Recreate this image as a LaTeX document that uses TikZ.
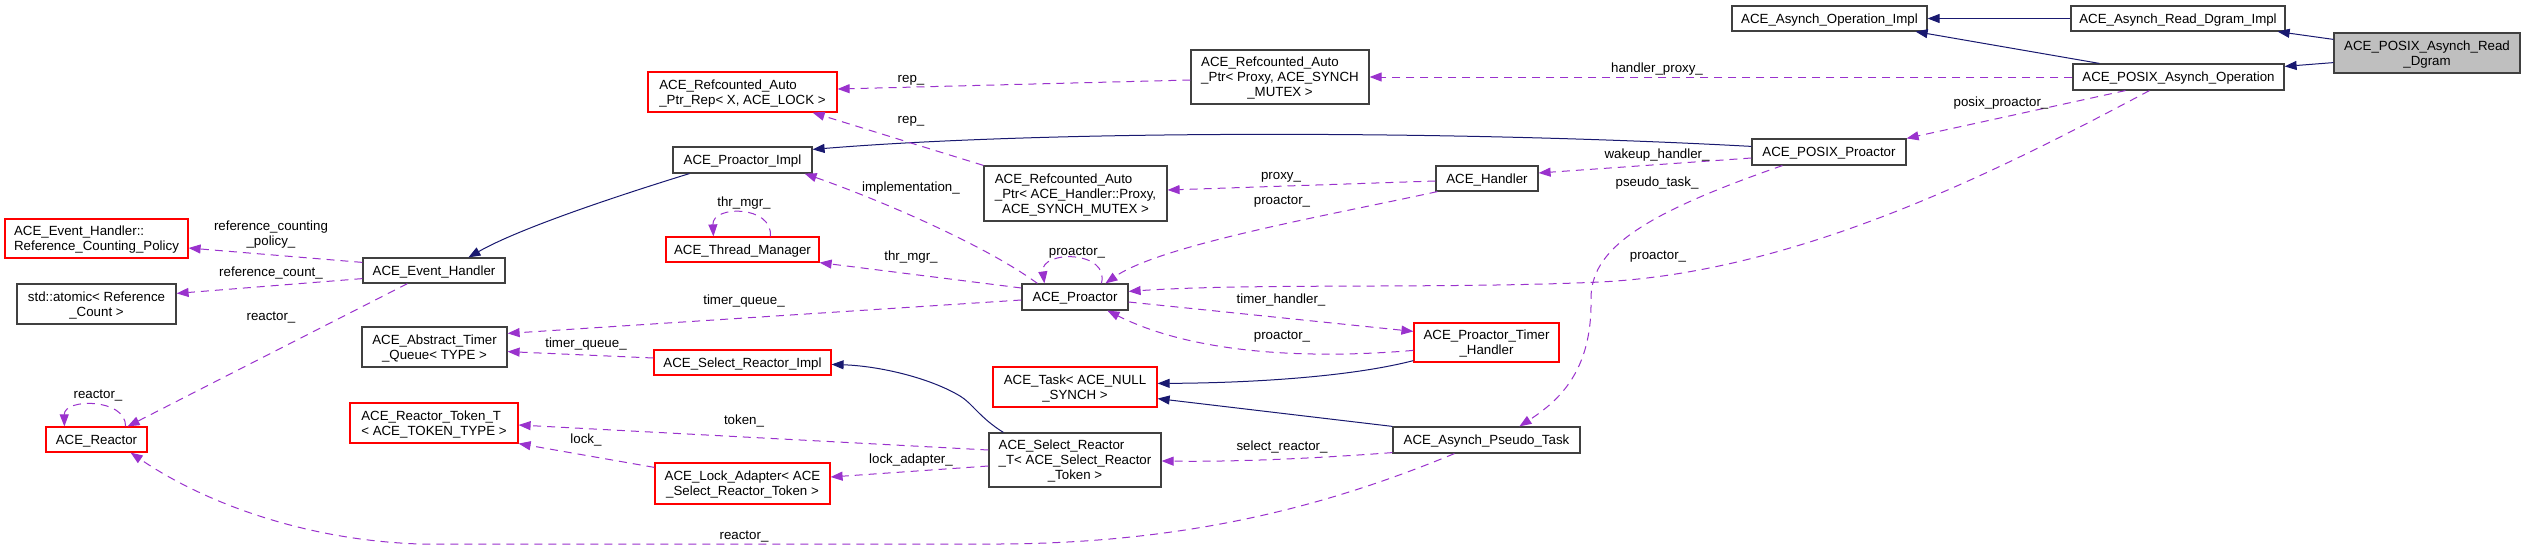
\documentclass[tikz,border=0pt]{standalone}
\usepackage{fontspec}
\setmainfont{Liberation Sans}
\usetikzlibrary{arrows.meta}
\definecolor{edgepurple}{HTML}{9A32CD}
\definecolor{edgenavy}{HTML}{191970}
\definecolor{boxgray}{HTML}{404040}
\definecolor{fillgray}{HTML}{BFBFBF}
\newcommand\nodefont{\fontsize{13.3}{15}\selectfont}
\newcommand\txa[1]{\raisebox{-1.5pt}[\height][\depth]{\begin{tabular}{@{}c@{}}#1\end{tabular}}}
\newcommand\txb[2]{\raisebox{-1.5pt}[\height][\depth]{\begin{tabular}{@{}l@{}}#1\\\multicolumn{1}{@{}c@{}}{#2}\end{tabular}}}
\newcommand\txc[3]{\raisebox{-1.5pt}[\height][\depth]{\begin{tabular}{@{}l@{}}#1\\#2\\\multicolumn{1}{@{}c@{}}{#3}\end{tabular}}}
\tikzset{
  cls/.style={draw=boxgray, line width=1.2pt, fill=white, inner sep=0pt, font=\nodefont},
  redcls/.style={cls, draw=red},
  maincls/.style={cls, fill=fillgray},
  box/.style n args={2}{minimum width=#1, minimum height=#2},
  inh/.style={draw=edgenavy, line width=1pt, -{Triangle[length=12pt,width=9pt]}},
  use/.style={draw=edgepurple, line width=1pt, dash pattern=on 8pt off 6pt, -{Triangle[length=12pt,width=9pt]}},
  lbl/.style={font=\nodefont, inner sep=0pt, text height=7pt, text depth=0pt},
}
\begin{document}
\begin{tikzpicture}[x=1pt,y=-1pt]
\useasboundingbox (0,0) rectangle (2527,549);
\fill[white] (0,0) rectangle (2527,549);
% nodes
\node[redcls, box={183pt}{39pt}] (policy) at (96.5,238.5) {\txb{ACE\_Event\_Handler::}{Reference\_Counting\_Policy}};
\node[cls, box={142pt}{25pt}] (evh) at (434,270.5) {\txa{ACE\_Event\_Handler}};
\node[cls, box={159pt}{40pt}] (atomic) at (96.5,304) {\txb{std::atomic< Reference}{\_Count >}};
\node[cls, box={145pt}{40pt}] (timerq) at (434.5,347) {\txb{ACE\_Abstract\_Timer}{\_Queue< TYPE >}};
\node[redcls, box={101pt}{25pt}] (reactor) at (96.5,439.5) {\txa{ACE\_Reactor}};
\node[redcls, box={168pt}{40pt}] (token) at (434,423) {\txb{ACE\_Reactor\_Token\_T}{< ACE\_TOKEN\_TYPE >}};
\node[redcls, box={189pt}{40pt}] (rep) at (742.5,92) {\txb{ACE\_Refcounted\_Auto}{\_Ptr\_Rep< X, ACE\_LOCK >}};
\node[cls, box={178pt}{54pt}] (refproxy) at (1280,77) {\txc{ACE\_Refcounted\_Auto}{\_Ptr< Proxy, ACE\_SYNCH}{\_MUTEX >}};
\node[cls, box={139pt}{26pt}] (pimpl) at (742.5,160) {\txa{ACE\_Proactor\_Impl}};
\node[cls, box={183pt}{55pt}] (refhproxy) at (1075.5,193.5) {\txc{ACE\_Refcounted\_Auto}{\_Ptr< ACE\_Handler::Proxy,}{ACE\_SYNCH\_MUTEX >}};
\node[redcls, box={153pt}{25pt}] (thrmgr) at (742.5,249.5) {\txa{ACE\_Thread\_Manager}};
\node[cls, box={106pt}{26pt}] (proactor) at (1075,297) {\txa{ACE\_Proactor}};
\node[redcls, box={177pt}{25pt}] (selimpl) at (742.5,362.5) {\txa{ACE\_Select\_Reactor\_Impl}};
\node[redcls, box={164pt}{40pt}] (task) at (1075,387) {\txb{ACE\_Task< ACE\_NULL}{\_SYNCH >}};
\node[cls, box={172pt}{54pt}] (selT) at (1075,460) {\txc{ACE\_Select\_Reactor}{\_T< ACE\_Select\_Reactor}{\_Token >}};
\node[redcls, box={175pt}{41pt}] (lockad) at (742.5,483.5) {\txb{ACE\_Lock\_Adapter< ACE}{\_Select\_Reactor\_Token >}};
\node[cls, box={195pt}{25pt}] (opimpl) at (1829.5,18.5) {\txa{ACE\_Asynch\_Operation\_Impl}};
\node[cls, box={154pt}{26pt}] (pproactor) at (1829,152) {\txa{ACE\_POSIX\_Proactor}};
\node[cls, box={102pt}{25pt}] (handler) at (1487,178.5) {\txa{ACE\_Handler}};
\node[redcls, box={145pt}{39pt}] (timerh) at (1486.5,342.5) {\txb{ACE\_Proactor\_Timer}{\_Handler}};
\node[cls, box={187pt}{26pt}] (pseudo) at (1486.5,440) {\txa{ACE\_Asynch\_Pseudo\_Task}};
\node[cls, box={214pt}{25pt}] (rdimpl) at (2178,18.5) {\txa{ACE\_Asynch\_Read\_Dgram\_Impl}};
\node[maincls, box={186pt}{40pt}] (main) at (2427,53) {\txb{ACE\_POSIX\_Asynch\_Read}{\_Dgram}};
\node[cls, box={211pt}{26pt}] (posixop) at (2178.5,77) {\txa{ACE\_POSIX\_Asynch\_Operation}};
% inheritance
\draw[inh] ([yshift=-7pt]main.north west) -- ([xshift=-8pt]rdimpl.south east);
\draw[inh] ([yshift=11pt]main.south west) -- ([yshift=-3pt]posixop.north east);
\draw[inh] (rdimpl.west) -- (opimpl.east);
\draw[inh] ([xshift=27pt]posixop.north west) -- ([xshift=-12pt]opimpl.south east);
\draw[inh] ([yshift=-8pt]pproactor.north west) .. controls (1450,130) and (1050,130) .. ([yshift=-3pt]pimpl.north east);
\draw[inh] ([xshift=17pt]pimpl.south west) .. controls (620,195) and (520,228) .. ([xshift=106pt]evh.north west);
\draw[inh] ([xshift=15pt]selT.north west) .. controls (980,418) and (972,403) .. (960,396) .. controls (930,378) and (880,366) .. ([yshift=-15pt]selimpl.north east);
\draw[inh] ([yshift=2pt]timerh.south west) .. controls (1350,377) and (1250,383) .. ([yshift=-17pt]task.north east);
\draw[inh] (pseudo.north west) -- ([yshift=9pt]task.south east);
% usage
\draw[use] (posixop.west) -- (refproxy.east);
\draw[use] ([xshift=53pt]posixop.south west) -- (pproactor.north east);
\draw[use] ([xshift=77pt]posixop.south west) .. controls (2000,170) and (1800,272) .. (1600,282) .. controls (1450,289) and (1250,283) .. ([yshift=-8pt]proactor.north east);
\draw[use] ([xshift=31pt]pproactor.south west) .. controls (1640,215) and (1590,250) .. (1591,300) .. controls (1592,370) and (1560,400) .. ([xshift=127pt]pseudo.north west);
\draw[use] ([yshift=-6pt]pproactor.west) -- ([yshift=5.5pt]handler.east);
\draw[use] ([yshift=-2.5pt]handler.west) -- ([yshift=3.5pt]refhproxy.east);
\draw[use] ([xshift=2pt]handler.south west) .. controls (1330,215) and (1160,245) .. ([xshift=84pt]proactor.north west);
\draw[use] ([yshift=-3pt]refproxy.west) -- ([yshift=3pt]rep.east);
\draw[use] (refhproxy.north west) -- ([xshift=-25pt]rep.south east);
\draw[use] ([xshift=16pt]proactor.north west) .. controls (985,245) and (880,200) .. ([xshift=-8pt]pimpl.south east);
\draw[use] ([xshift=80pt]proactor.north west) .. controls (1110,250) and (1040,250) .. ([xshift=23pt]proactor.north west);
\draw[use] ([xshift=105pt]thrmgr.north west) .. controls (773,205) and (712,205) .. ([xshift=48pt]thrmgr.north west);
\draw[use] ([yshift=9pt]proactor.west) -- (thrmgr.south east);
\draw[use] ([yshift=-3pt]proactor.west) -- ([yshift=-7pt]timerq.north east);
\draw[use] ([yshift=4.5pt]selimpl.west) -- ([yshift=16pt]timerq.south east);
\draw[use] ([yshift=-5pt]proactor.east) -- ([yshift=-9pt]timerh.north west);
\draw[use] ([yshift=-28pt]timerh.north west) .. controls (1300,360) and (1190,352) .. ([xshift=86pt]proactor.south west);
\draw[use] ([yshift=1pt]pseudo.south west) .. controls (1320,458) and (1240,462) .. ([yshift=-1pt]selT.east);
\draw[use] ([yshift=10pt]selT.west) -- ([yshift=-2pt]token.east);
\draw[use] ([yshift=-6pt]selT.west) -- ([yshift=6.5pt]lockad.east);
\draw[use] ([yshift=-5pt]lockad.north west) -- (token.south east);
\draw[use] ([xshift=62pt]pseudo.south west) .. controls (1330,505) and (1190,543) .. (1000,544) -- (420,544) .. controls (300,540) and (200,500) .. ([xshift=-17pt]reactor.south east);
\draw[use] ([xshift=45pt]evh.south west) -- ([xshift=-20pt]reactor.north east);
\draw[use] ([xshift=-22pt]reactor.north east) .. controls (126,398) and (64,398) .. ([xshift=19pt]reactor.north west);
\draw[use] ([yshift=-5pt]evh.north west) -- ([yshift=-9.5pt]policy.east);
\draw[use] ([yshift=5pt]evh.south west) -- ([yshift=-10pt]atomic.north east);
% labels
\node[lbl] (l1) at (1657,69) {handler\_proxy\_};
\node[lbl] (l2) at (2001,103) {posix\_proactor\_};
\node[lbl] (l3) at (1658,256) {proactor\_};
\node[lbl] (l4) at (1657,183) {pseudo\_task\_};
\node[lbl] (l5) at (1657,155) {wakeup\_handler\_};
\node[lbl] (l6) at (1281,176) {proxy\_};
\node[lbl] (l7) at (1282,201) {proactor\_};
\node[lbl] (l8) at (911,79) {rep\_};
\node[lbl] (l9) at (911,120) {rep\_};
\node[lbl] (l10) at (911,188) {implementation\_};
\node[lbl] (l11) at (1077,252) {proactor\_};
\node[lbl] (l12) at (744,203) {thr\_mgr\_};
\node[lbl] (l13) at (911,257) {thr\_mgr\_};
\node[lbl] (l14) at (744,301) {timer\_queue\_};
\node[lbl] (l15) at (586,344) {timer\_queue\_};
\node[lbl] (l16) at (1281,300) {timer\_handler\_};
\node[lbl] (l17) at (1282,336) {proactor\_};
\node[lbl] (l18) at (1282,447) {select\_reactor\_};
\node[lbl] (l19) at (744,421) {token\_};
\node[lbl] (l20) at (911,460) {lock\_adapter\_};
\node[lbl] (l21) at (586,440) {lock\_};
\node[lbl] (l22) at (744,536) {reactor\_};
\node[lbl] (l23) at (271,317) {reactor\_};
\node[lbl] (l24) at (98,395) {reactor\_};
\node[font=\nodefont, inner sep=0pt, align=center] (l25) at (271,235) {reference\_counting\\\_policy\_};
\node[lbl] (l26) at (271,273) {reference\_count\_};
\end{tikzpicture}
\end{document}
